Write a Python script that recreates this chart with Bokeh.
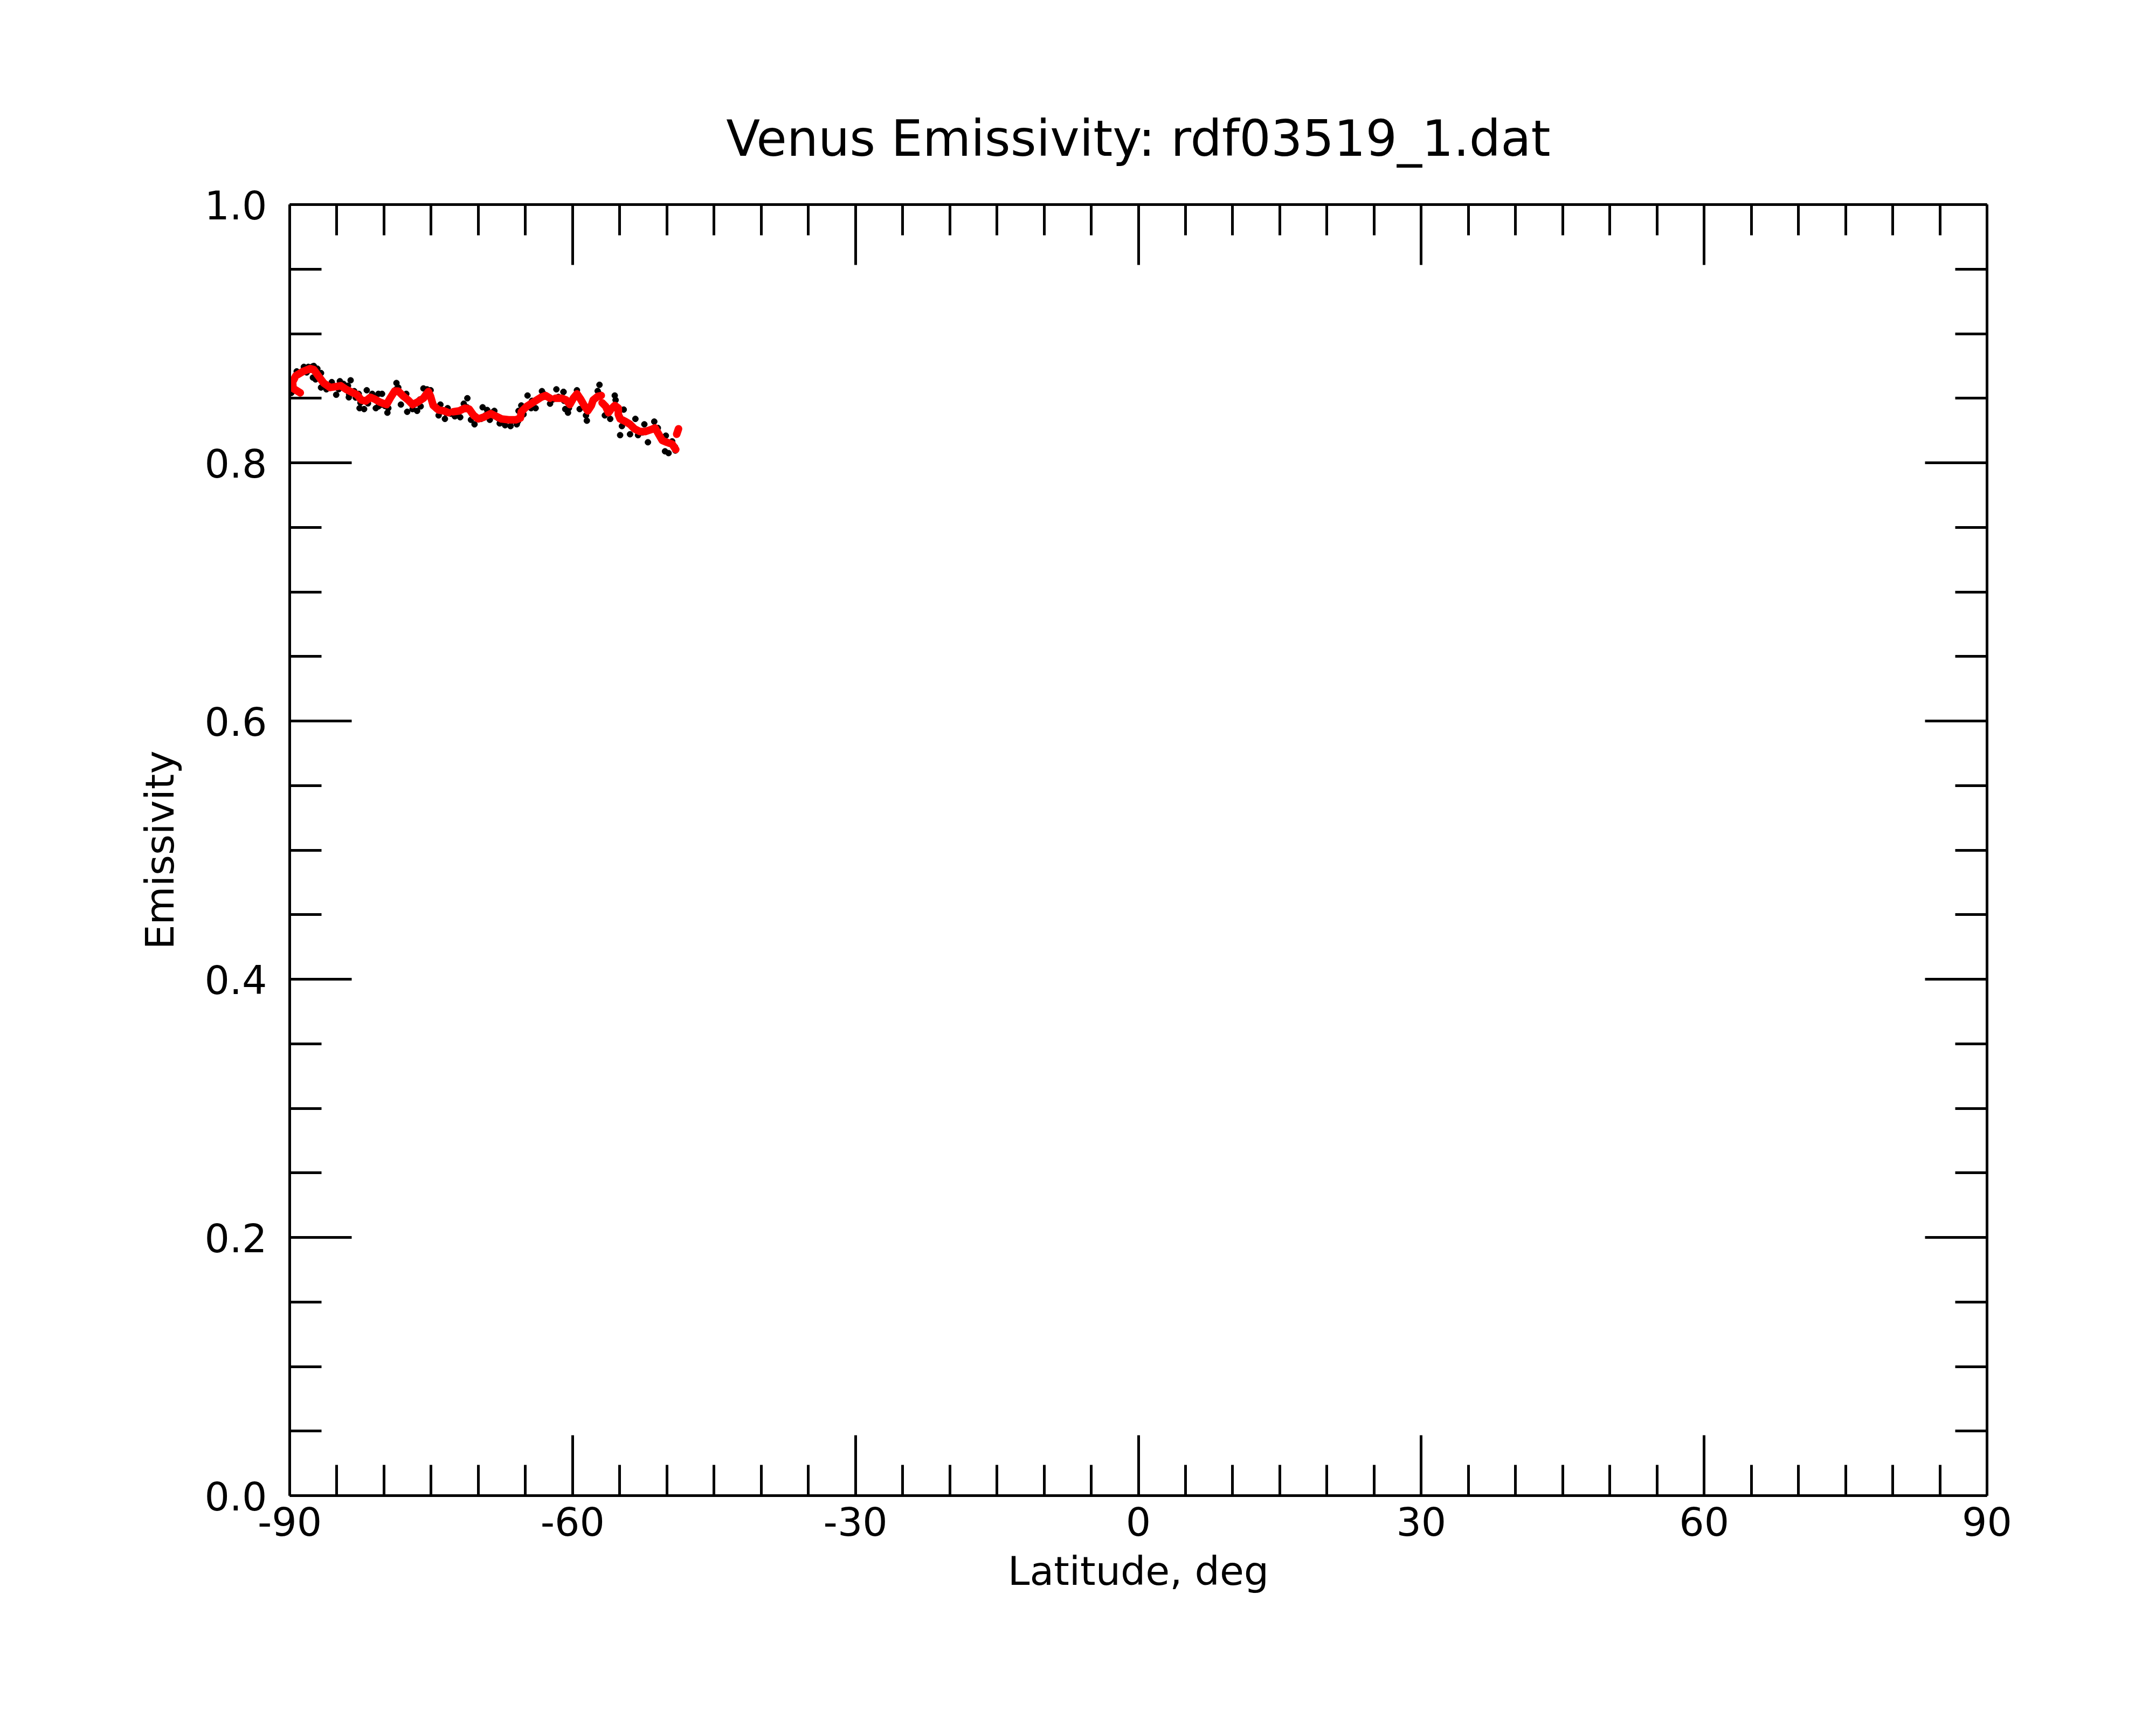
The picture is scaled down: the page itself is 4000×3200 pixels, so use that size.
from bokeh.plotting import figure
from bokeh.models import Range1d, LinearAxis, FixedTicker, CustomJSTickFormatter
from bokeh.embed import file_html
from bokeh.resources import INLINE

NaN = float("nan")

title_text = "Venus Emissivity: rdf03519_1.dat"
x_label = "Latitude, deg"
y_label = "Emissivity"

x_major = [-90, -60, -30, 0, 30, 60, 90]
x_major_labels = ["-90", "-60", "-30", "0", "30", "60", "90"]
x_minor = [-85, -80, -75, -70, -65, -55, -50, -45, -40, -35, -25, -20, -15, -10, -5,
           5, 10, 15, 20, 25, 35, 40, 45, 50, 55, 65, 70, 75, 80, 85]
y_major = [0.0, 0.2, 0.4, 0.6, 0.8, 1.0]
y_major_labels = ["0.0", "0.2", "0.4", "0.6", "0.8", "1.0"]
y_minor = [0.05, 0.1, 0.15, 0.25, 0.3, 0.35, 0.45, 0.5, 0.55, 0.65, 0.7, 0.75, 0.85, 0.9, 0.95]

# measured emissivity samples (black dots)
lat_dots = [
    -89.83, -89.83, -89.26, -88.50, -88.02, -87.45, -87.07, -87.54, -87.26, -86.68,
    -86.68, -86.11, -85.54, -85.07, -84.68, -84.30, -83.54, -83.82, -83.73, -83.16,
    -82.68, -82.59, -82.11, -81.83, -81.25, -80.87, -80.59, -80.21, -80.59, -79.64,
    -79.54, -78.68, -78.49, -78.21, -77.64, -77.54, -76.97, -76.49, -76.11, -75.82,
    -75.44, -75.06, -74.02, -74.21, -73.54, -73.25, -72.49, -71.92, -71.16, -71.54,
    -70.78, -70.40, -69.54, -69.06, -68.78, -68.30, -67.73, -67.16, -66.58, -65.92,
    -65.73, -65.44, -64.78, -64.40, -63.92, -63.25, -62.39, -61.72, -60.97, -60.78,
    -60.96, -60.49, -60.39, -59.54, -59.25, -58.49, -58.58, -57.15, -57.34, -56.58,
    -56.01, -55.53, -55.44, -54.58, -54.96, -54.77, -53.91, -53.34, -53.06, -52.39,
    -52.01, -51.34, -50.96, -50.20, -50.11, -49.82, -49.44, -49.15,
    -89.50, -89.00, -88.20, -87.60, -86.80, -86.20, -85.40, -84.80, -84.30, -83.70,
    -83.00, -82.50, -81.70, -81.20, -80.70, -80.30, -79.90, -79.50, -79.10, -78.70,
    -78.10, -77.70, -77.20, -76.70, -76.20, -75.60, -75.00, -74.50, -74.00, -73.40,
    -72.90, -72.30, -71.70, -71.20, -70.70, -70.20, -69.70, -69.20, -68.50, -67.90,
    -67.30, -66.50, -65.80, -65.20, -64.60, -64.30, -63.70, -63.00, -62.60, -62.10,
    -61.50, -60.90, -60.50, -60.10, -59.70, -59.30, -59.00, -58.60, -58.20, -57.90,
    -57.50, -57.10, -56.70, -56.30, -56.00, -55.70, -55.30, -55.00, -54.60, -54.10,
    -53.70, -53.20, -52.60, -52.10, -51.50, -51.10, -50.70, -50.30, -49.80, -49.30,
    -49.10,
]
emis_dots = [
    0.8541, 0.8597, 0.8708, 0.8743, 0.8743, 0.8750, 0.8729, 0.8660, 0.8646, 0.8695,
    0.8583, 0.8569, 0.8625, 0.8527, 0.8632, 0.8611, 0.8639, 0.8597, 0.8507, 0.8555,
    0.8534, 0.8423, 0.8416, 0.8562, 0.8534, 0.8423, 0.8534, 0.8534, 0.8437, 0.8388,
    0.8423, 0.8618, 0.8583, 0.8451, 0.8534, 0.8395, 0.8416, 0.8402, 0.8437, 0.8576,
    0.8569, 0.8562, 0.8451, 0.8367, 0.8340, 0.8423, 0.8360, 0.8353, 0.8500, 0.8458,
    0.8333, 0.8298, 0.8430, 0.8409, 0.8333, 0.8402, 0.8305, 0.8291, 0.8284, 0.8298,
    0.8402, 0.8444, 0.8521, 0.8423, 0.8423, 0.8555, 0.8458, 0.8569, 0.8549, 0.8416,
    0.8549, 0.8388, 0.8423, 0.8562, 0.8416, 0.8326, 0.8367, 0.8604, 0.8556, 0.8367,
    0.8340, 0.8521, 0.8486, 0.8412, 0.8214, 0.8284, 0.8221, 0.8340, 0.8214, 0.8298,
    0.8159, 0.8319, 0.8270, 0.8089, 0.8210, 0.8075, 0.8166, 0.8124,
    0.8560, 0.8690, 0.8700, 0.8745, 0.8650, 0.8600, 0.8600, 0.8570, 0.8580, 0.8530,
    0.8505, 0.8465, 0.8460, 0.8520, 0.8480, 0.8450, 0.8440, 0.8480, 0.8535, 0.8570,
    0.8530, 0.8500, 0.8465, 0.8460, 0.8490, 0.8530, 0.8490, 0.8420, 0.8395, 0.8385,
    0.8380, 0.8385, 0.8415, 0.8430, 0.8380, 0.8350, 0.8340, 0.8370, 0.8390, 0.8345,
    0.8330, 0.8320, 0.8320, 0.8375, 0.8450, 0.8480, 0.8495, 0.8530, 0.8510, 0.8490,
    0.8510, 0.8480, 0.8470, 0.8480, 0.8520, 0.8510, 0.8470, 0.8420, 0.8420, 0.8470,
    0.8500, 0.8530, 0.8450, 0.8400, 0.8400, 0.8430, 0.8430, 0.8360, 0.8330, 0.8305,
    0.8280, 0.8255, 0.8235, 0.8250, 0.8265, 0.8250, 0.8195, 0.8165, 0.8150, 0.8125,
    0.8095,
]

# smoothed emissivity (red curve), NaN marks breaks
lat_smooth = [
    -88.88, -89.64, -89.70, -89.35, -88.59, -87.83, -87.45, -86.97, -86.40, -85.73,
    -85.07, -84.59, -84.02, -83.45, -82.87, -82.40, -81.92, -81.44, -80.97, -80.49,
    -80.02, -79.73, -79.35, -78.87, -78.49, -77.92, -77.44, -76.97, -76.40, -75.82,
    -75.30, -75.06, -74.78, -74.21, -73.63, -73.16, NaN,
    -72.68, -72.02, -71.44, -70.97, -70.49, -70.01, -69.44, -68.68, -68.11, -67.54,
    -66.78, -66.01, -65.54, -65.44, -64.87, -64.11, -63.35, -62.87, -62.39, NaN,
    -61.82, -61.15, -60.68, -60.30, -59.92, -59.54, -59.15, -58.77, -58.39, -58.01,
    -57.82, -57.34, -56.96, NaN,
    -56.87, -56.49, -56.20, -55.92, -55.53, -55.15, -55.15, -54.96, -54.39, -53.91,
    -53.44, -52.87, -52.30, -51.72, -51.25, -50.87, -50.49, -50.01, -49.44, -49.06, NaN,
    -48.96, -48.77,
]
emis_smooth = [
    0.8542, 0.8576, 0.8625, 0.8674, 0.8708, 0.8729, 0.8722, 0.8674, 0.8618, 0.8583,
    0.8590, 0.8597, 0.8569, 0.8548, 0.8527, 0.8486, 0.8479, 0.8507, 0.8493, 0.8472,
    0.8458, 0.8451, 0.8500, 0.8555, 0.8555, 0.8514, 0.8486, 0.8451, 0.8472, 0.8500,
    0.8552, 0.8514, 0.8444, 0.8409, 0.8402, 0.8388, NaN,
    0.8395, 0.8402, 0.8423, 0.8416, 0.8367, 0.8340, 0.8353, 0.8381, 0.8360, 0.8340,
    0.8333, 0.8333, 0.8347, 0.8395, 0.8437, 0.8472, 0.8507, 0.8521, 0.8500, NaN,
    0.8500, 0.8500, 0.8486, 0.8451, 0.8500, 0.8534, 0.8493, 0.8444, 0.8402, 0.8444,
    0.8486, 0.8514, 0.8521, NaN,
    0.8465, 0.8437, 0.8388, 0.8416, 0.8444, 0.8423, 0.8374, 0.8340, 0.8319, 0.8298,
    0.8263, 0.8242, 0.8242, 0.8256, 0.8270, 0.8221, 0.8173, 0.8159, 0.8145, 0.8103, NaN,
    0.8221, 0.8263,
]

FONT = "DejaVu Sans"

p = figure(
    frame_width=3149, frame_height=2395,
    x_range=Range1d(-90, 90), y_range=Range1d(0, 1),
    output_backend="svg", toolbar_location=None,
    min_border_left=537, min_border_top=379,
    min_border_right=290, min_border_bottom=400,
    title=title_text,
)
p.background_fill_color = "white"
p.border_fill_color = "white"
p.outline_line_color = None
p.xgrid.visible = False
p.ygrid.visible = False

p.title.align = "center"
p.title.text_font = FONT
p.title.text_font_size = "92px"
p.title.text_font_style = "normal"
p.title.text_color = "black"
p.title.standoff = 138

x_ticker = FixedTicker(ticks=x_major, minor_ticks=x_minor)
y_ticker = FixedTicker(ticks=y_major, minor_ticks=y_minor)


def style_axis(ax, major_in, minor_in):
    ax.axis_line_width = 5
    ax.axis_line_color = "black"
    ax.major_tick_line_width = 5
    ax.minor_tick_line_width = 5
    ax.major_tick_line_color = "black"
    ax.minor_tick_line_color = "black"
    ax.major_tick_in = major_in
    ax.major_tick_out = 0
    ax.minor_tick_in = minor_in
    ax.minor_tick_out = 0
    ax.major_label_text_font = FONT
    ax.major_label_text_font_size = "73px"
    ax.major_label_text_color = "black"
    ax.axis_label_text_font = FONT
    ax.axis_label_text_font_size = "73px"
    ax.axis_label_text_font_style = "normal"
    ax.axis_label_text_color = "black"


xa = p.xaxis[0]
xa.ticker = x_ticker
xa.major_label_overrides = dict(zip(x_major, x_major_labels))
xa.axis_label = x_label
style_axis(xa, 112, 57)
xa.major_label_standoff = 20
xa.axis_label_standoff = 20

ya = p.yaxis[0]
ya.ticker = y_ticker
ya.major_label_overrides = dict(zip(y_major, y_major_labels))
ya.axis_label = y_label
style_axis(ya, 115, 59)
ya.major_label_standoff = 42
ya.axis_label_standoff = 37

blank = CustomJSTickFormatter(code="return ''")
top = LinearAxis(ticker=FixedTicker(ticks=x_major, minor_ticks=x_minor), formatter=blank)
style_axis(top, 112, 57)
top.major_label_text_font_size = "1px"
top.major_label_standoff = 0
p.add_layout(top, "above")

right = LinearAxis(ticker=FixedTicker(ticks=y_major, minor_ticks=y_minor), formatter=blank)
style_axis(right, 115, 59)
right.major_label_text_font_size = "1px"
right.major_label_standoff = 0
p.add_layout(right, "right")

p.scatter(lat_dots, emis_dots, size=11, color="black", marker="circle")
p.line(lat_smooth, emis_smooth, line_width=14, color="red",
       line_cap="round", line_join="round")

open("out.html", "w").write(file_html(p, INLINE))
